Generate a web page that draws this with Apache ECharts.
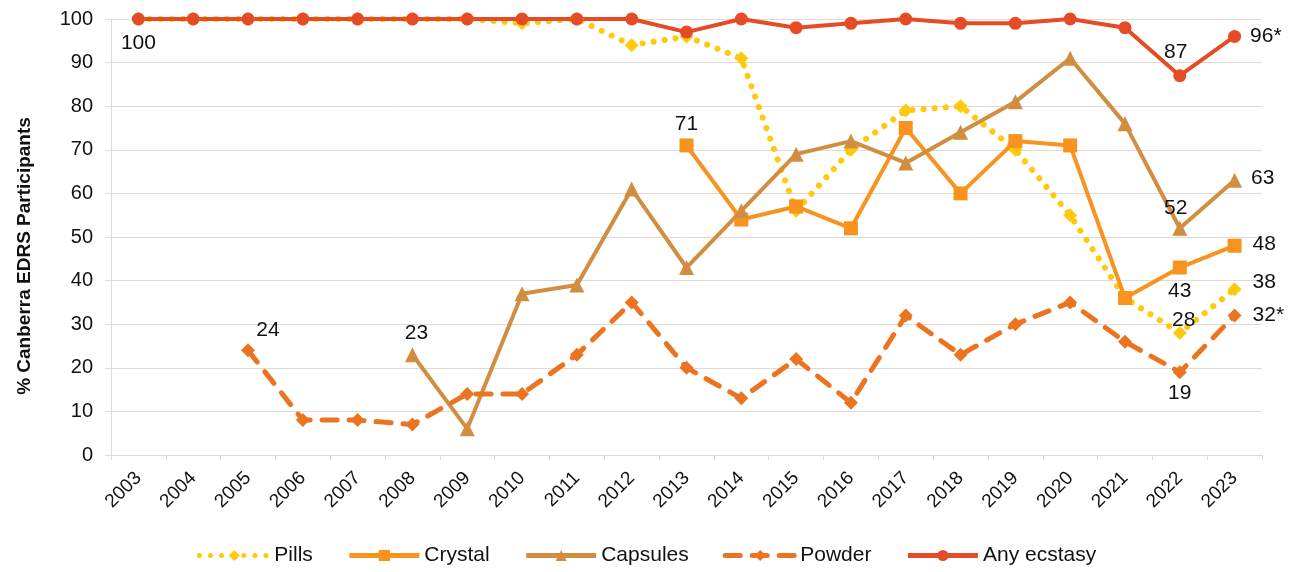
<!DOCTYPE html>
<html>
<head>
<meta charset="utf-8">
<script src="https://cdn.jsdelivr.net/npm/echarts@6/dist/echarts.min.js"></script>
<style>
html,body{margin:0;padding:0;background:#fff;}
#chart{width:1293px;height:572px;}
</style>
</head>
<body>
<div id="chart"></div>
<script>
var years = ['2003','2004','2005','2006','2007','2008','2009','2010','2011','2012','2013','2014','2015','2016','2017','2018','2019','2020','2021','2022','2023'];
var pills    = [100,100,100,100,100,100,100,99,100,94,96,91,56,70,79,80,70,55,36,28,38];
var crystal  = [null,null,null,null,null,null,null,null,null,null,71,54,57,52,75,60,72,71,36,43,48];
var capsules = [null,null,null,null,null,23,6,37,39,61,43,56,69,72,67,74,81,91,76,52,63];
var powder   = [null,null,24,8,8,7,14,14,23,35,20,13,22,12,32,23,30,35,26,19,32];
var anyEcstasy = [100,100,100,100,100,100,100,100,100,100,97,100,98,99,100,99,99,100,98,87,96];
var yTicks = [0,10,20,30,40,50,60,70,80,90,100];

var FONT = 'Liberation Sans, Arial, sans-serif';
var TXT = '#111';

// label placement (style only), keyed by index
function withLabels(values, spec) {
  return values.map(function (v, i) {
    if (v === null) return null;
    var s = spec[i];
    if (!s) return v;
    return {
      value: v,
      label: {
        show: true,
        position: s.pos,
        offset: s.off || [0, 0],
        distance: s.dist == null ? 5 : s.dist,
        formatter: s.fmt || '{c}',
        fontSize: 21,
        color: TXT,
        fontFamily: FONT
      }
    };
  });
}

var series = [
  {
    name: 'Pills', type: 'line', data: withLabels(pills, {
      19: {pos: 'top', off: [4, 10]},
      20: {pos: 'right', off: [6, -7]}
    }),
    symbol: 'diamond', symbolSize: 14,
    itemStyle: {color: '#FFC90E'},
    lineStyle: {color: '#FFC90E', width: 6, type: [0.1, 11], cap: 'round'}
  },
  {
    name: 'Crystal', type: 'line', data: withLabels(crystal, {
      10: {pos: 'top', dist: 4},
      19: {pos: 'bottom', dist: 6},
      20: {pos: 'right', off: [6, -2]}
    }),
    symbol: 'rect', symbolSize: 14,
    itemStyle: {color: '#F7931E'},
    lineStyle: {color: '#F7931E', width: 4}
  },
  {
    name: 'Capsules', type: 'line', data: withLabels(capsules, {
      5: {pos: 'top', off: [4, 0], dist: 4},
      19: {pos: 'top', off: [-4, 0], dist: 2},
      20: {pos: 'right', off: [4, -2]}
    }),
    symbol: 'triangle', symbolSize: 15,
    itemStyle: {color: '#D18E41'},
    lineStyle: {color: '#D18E41', width: 4}
  },
  {
    name: 'Powder', type: 'line', data: withLabels(powder, {
      2: {pos: 'top', off: [20, 2]},
      19: {pos: 'bottom', off: [0, 0], dist: 4},
      20: {pos: 'right', fmt: '{c}*', off: [6, 0]}
    }),
    symbol: 'diamond', symbolSize: 14,
    itemStyle: {color: '#EC7421'},
    lineStyle: {color: '#EC7421', width: 5, type: [15, 12], cap: 'round'}
  },
  {
    name: 'Any ecstasy', type: 'line', data: withLabels(anyEcstasy, {
      0: {pos: 'bottom', dist: 7},
      19: {pos: 'top', off: [-4, 0], dist: 6},
      20: {pos: 'right', fmt: '{c}*', off: [4, 0]}
    }),
    symbol: 'circle', symbolSize: 13,
    itemStyle: {color: '#E54B25'},
    lineStyle: {color: '#E54B25', width: 4}
  }
];

var chart = echarts.init(document.getElementById('chart'), null, {renderer: 'canvas'});
chart.setOption({
  animation: false,
  backgroundColor: '#fff',
  textStyle: {fontFamily: FONT},
  grid: {left: 111, right: 31, top: 19, bottom: 117, containLabel: false},
  legend: {
    top: 540, left: 'center',
    itemWidth: 70, itemHeight: 14, itemGap: 34,
    lineStyle: {width: 5},
    textStyle: {fontSize: 21, color: TXT, fontFamily: FONT},
    data: series.map(function (s) { return s.name; })
  },
  xAxis: {
    type: 'category', data: years, boundaryGap: true,
    axisLine: {show: true, lineStyle: {color: '#E0D9D5', width: 1}},
    axisTick: {show: true, length: 5, lineStyle: {color: '#E0D9D5'}},
    axisLabel: {rotate: 45, fontSize: 19, color: TXT, margin: 20, fontFamily: FONT, interval: 0}
  },
  yAxis: {
    type: 'value', min: yTicks[0], max: yTicks[yTicks.length - 1], interval: yTicks[1] - yTicks[0],
    axisLine: {show: true, lineStyle: {color: '#E0D9D5', width: 1}},
    axisTick: {show: true, length: 6, lineStyle: {color: '#E0D9D5'}},
    splitLine: {show: true, lineStyle: {color: '#E0D9D5', width: 1}},
    axisLabel: {fontSize: 20, color: TXT, margin: 18, fontFamily: FONT}
  },
  graphic: [{
    type: 'text',
    rotation: Math.PI / 2,
    x: 25, y: 256,
    style: {
      text: '% Canberra EDRS Participants',
      font: 'bold 19px ' + FONT,
      fill: TXT,
      align: 'center',
      verticalAlign: 'middle'
    }
  }],
  series: series
});
</script>
</body>
</html>
